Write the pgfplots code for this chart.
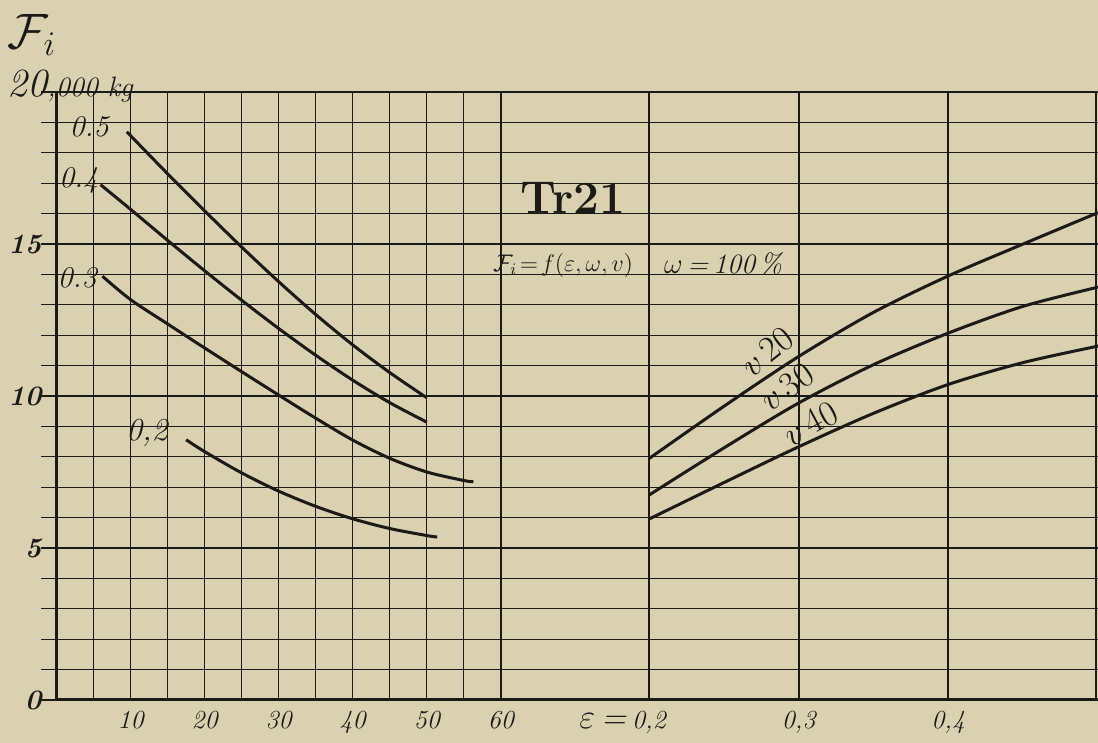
\documentclass[border=0pt]{standalone}
\usepackage{pgfplots}
\pgfplotsset{compat=1.18}
\definecolor{paper}{RGB}{217,209,176}
\definecolor{ink}{RGB}{28,26,22}

% left panel series (x, F_i in 1000 kg)
\pgfplotstableread{
x y
9.5 18.69
15 17.31
20 16.09
25 14.90
30 13.76
35 12.68
40 11.68
45 10.77
50 9.94
}\cfive
\pgfplotstableread{
x y
5.95 16.95
10 16.14
15 15.12
20 14.12
25 13.15
30 12.22
35 11.34
40 10.52
45 9.78
50 9.14
}\cfour
\pgfplotstableread{
x y
6.2 13.94
10 13.17
15 12.37
20 11.58
25 10.80
30 10.03
35 9.27
40 8.55
45 7.95
50 7.50
55 7.22
56.3 7.18
}\cthree
\pgfplotstableread{
x y
17.5 8.56
20 8.17
25 7.47
30 6.87
35 6.37
40 5.96
45 5.64
50 5.41
51.4 5.36
}\ctwo
% right panel series (epsilon, F_i)
\pgfplotstableread{
e y
0.20 7.94
0.25 9.66
0.30 11.30
0.35 12.75
0.40 13.95
0.45 15.00
0.50 16.03
}\vtwenty
\pgfplotstableread{
e y
0.20 6.74
0.25 8.29
0.30 9.77
0.35 11.03
0.40 12.07
0.45 12.95
0.50 13.58
}\vthirty
\pgfplotstableread{
e y
0.20 5.95
0.25 7.15
0.30 8.33
0.35 9.43
0.40 10.38
0.45 11.10
0.50 11.64
}\vforty

\begin{document}
\begin{tikzpicture}[x=1pt,y=1pt]
\useasboundingbox (0pt,0pt) rectangle (549pt,371.5pt);
\fill[paper] (0pt,0pt) rectangle (549pt,371.5pt);

\pgfplotsset{
  paperaxis/.style={
    scale only axis, anchor=south west,
    height=304pt, ymin=0, ymax=20,
    axis line style={draw=none},
    grid=both,
    major grid style={ink, line width=0.65pt},
    minor grid style={ink, line width=0.65pt},
    major tick length=0pt, minor tick length=0pt,
    ticklabel style={font=\fontsize{13}{14}\selectfont\itshape, text=ink},
    clip=false,
  },
  curve/.style={ink, line width=1.5pt, smooth, no markers},
}

% ---------------- left panel ----------------
\begin{axis}[paperaxis, at={(28.25pt,21.5pt)}, width=296.25pt,
  xmin=0, xmax=80,
  xtick={10,20,...,60}, xticklabels={10,20,30,40,50,60},
  minor xtick={5,15,...,55},
  ytick={0,5,10,15}, yticklabels={0,5,10,15},
  minor ytick={1,2,3,4,6,7,8,9,11,12,13,14,16,17,18,19},
  yticklabel style={xshift=-4pt, font=\fontsize{14}{15}\selectfont\bfseries\itshape},
  xticklabel style={yshift=-2pt},
]
\pgfplotsinvokeforeach{0,...,20}{
  \draw[ink, line width=0.65pt] (axis cs:0,#1) -- ++(-8pt,0);
}
\draw[ink, line width=1.0pt] (rel axis cs:0,1) -- (rel axis cs:1,1);
\draw[ink, line width=1.2pt] (rel axis cs:1,0) -- (rel axis cs:1,1);
\draw[ink, line width=1.5pt] (rel axis cs:0,1) -- (rel axis cs:0,0) -- (rel axis cs:1,0);

\addplot[curve] table[x=x,y=y] {\cfive};
\addplot[curve] table[x=x,y=y] {\cfour};
\addplot[curve] table[x=x,y=y] {\cthree};
\addplot[curve] table[x=x,y=y] {\ctwo};

\node[text=ink, font=\itshape\fontsize{15}{16}\selectfont] at (axis cs:4.4,18.85) {0.5};
\node[text=ink, font=\itshape\fontsize{15}{16}\selectfont] at (axis cs:3.0,17.1) {0.4};
\node[text=ink, font=\itshape\fontsize{15}{16}\selectfont] at (axis cs:2.8,13.9) {0.3};
\node[text=ink, font=\itshape\fontsize{16}{17}\selectfont] at (axis cs:12.2,8.8) {0,2};

\node[text=ink, font=\bfseries\fontsize{23}{24}\selectfont] at (axis cs:69.7,16.5) {Tr21};
\node[text=ink, anchor=base, font=\fontsize{12}{13}\selectfont] at (axis cs:68.4,14.1)
  {$\mathcal{F}_i\!=\!f(\varepsilon,\omega,v)$};
\end{axis}

% ---------------- right panel ----------------
\begin{axis}[paperaxis, at={(324.5pt,21.5pt)}, width=224.5pt,
  xmin=0.2, xmax=0.5,
  xtick={0.2,0.3,0.4},
  xticklabels={{\llap{\fontsize{17}{18}\selectfont$\varepsilon$\,=\,}0,2},{0,3},{0,4}},
  xticklabel style={yshift=-2pt},
  ytick={1,...,19}, yticklabels={},
  minor tick num=0,
]
\draw[ink, line width=1.0pt] (rel axis cs:0,1) -- (rel axis cs:1,1);
\draw[ink, line width=1.1pt] (axis cs:0.3,0) -- (axis cs:0.3,20);
\draw[ink, line width=1.1pt] (axis cs:0.4,0) -- (axis cs:0.4,20);
\draw[ink, line width=1.1pt] (axis cs:0.4985,0) -- (axis cs:0.4985,20);
\draw[ink, line width=1.5pt] (rel axis cs:0,0) -- (rel axis cs:1,0);

\addplot[curve] table[x=e,y=y] {\vtwenty};
\addplot[curve] table[x=e,y=y] {\vthirty};
\addplot[curve] table[x=e,y=y] {\vforty};

\node[text=ink, font=\itshape\fontsize{14}{15}\selectfont] at (axis cs:0.2495,14.35) {$\omega$\,=\,100\,\%};
\node[text=ink, rotate=38, inner sep=0pt, font=\fontsize{18}{19}\selectfont] at (axis cs:0.279,11.45) {$v$\,20};
\node[text=ink, rotate=35, inner sep=0pt, font=\fontsize{18}{19}\selectfont] at (axis cs:0.292,10.3) {$v$\,30};
\node[text=ink, rotate=28, inner sep=0pt, font=\fontsize{18}{19}\selectfont] at (axis cs:0.308,9.1) {$v$\,40};
\end{axis}

% ---------------- axis title at top left ----------------
\node[text=ink, font=\fontsize{24}{26}\selectfont] at (16pt,354pt) {$\mathcal{F}_i$};
\node[text=ink, anchor=base west, inner sep=0pt] at (3.5pt,323pt)
  {{\itshape\fontsize{20}{21}\selectfont 20}{\itshape\fontsize{14}{15}\selectfont,000 kg}};
\end{tikzpicture}
\end{document}
